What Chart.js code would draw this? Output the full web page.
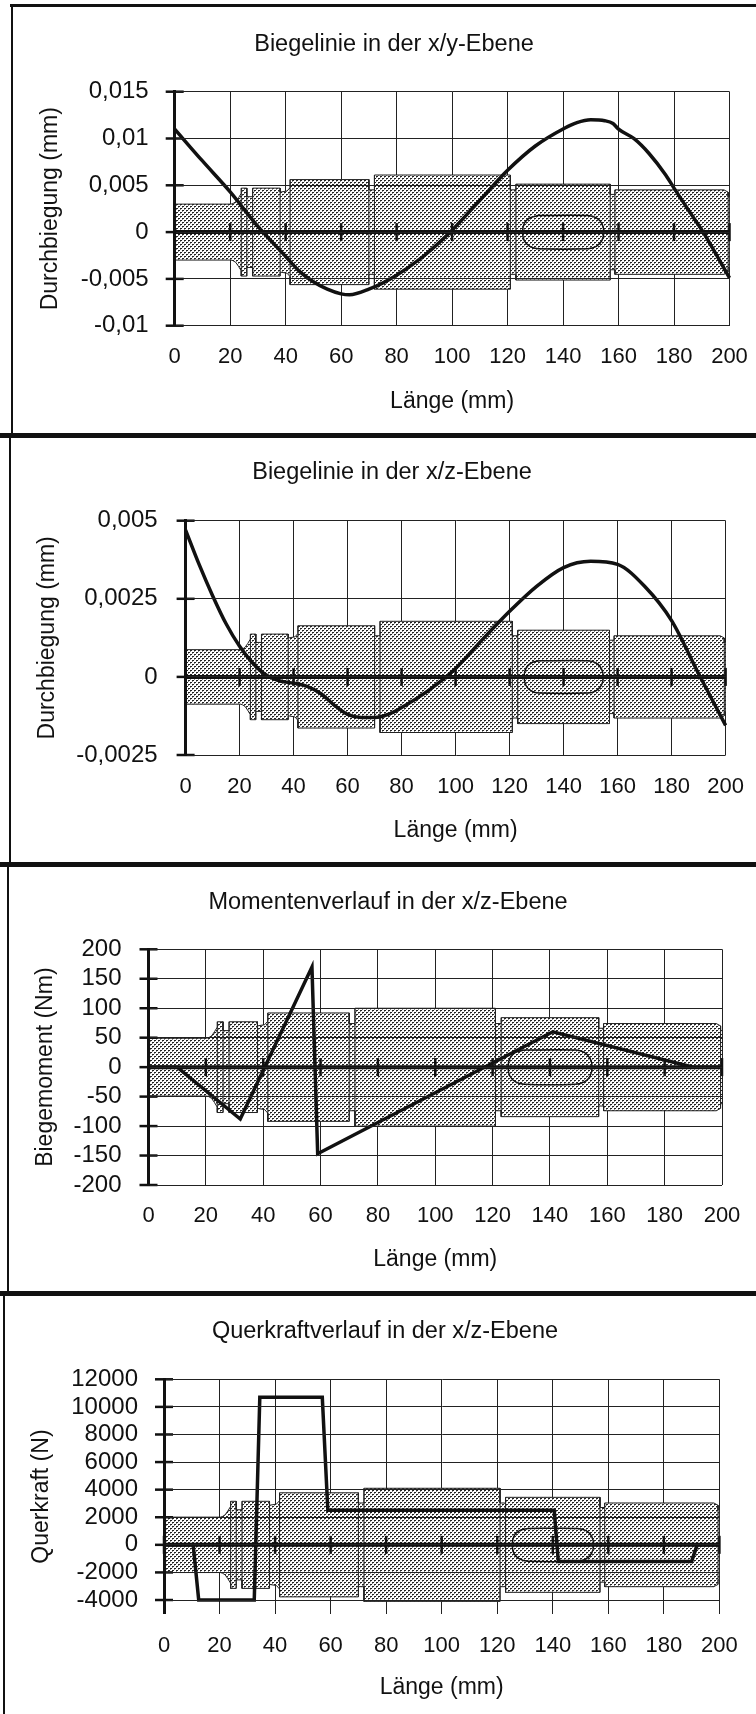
<!DOCTYPE html>
<html>
<head>
<meta charset="utf-8">
<title>Biegelinie</title>
<script src="https://cdn.jsdelivr.net/npm/chart.js@4/dist/chart.umd.min.js"></script>
<style>
html, body { margin: 0; padding: 0; background: #fff; }
#page { position: relative; width: 756px; height: 1714px; overflow: hidden; }
canvas { position: absolute; left: 0; }
.rule { position: absolute; background: #111; }
</style>
</head>
<body>
<div id="page">
	<canvas id="chart-1" width="756" height="430" style="top:4px"></canvas>
	<canvas id="chart-2" width="756" height="426" style="top:436px"></canvas>
	<canvas id="chart-3" width="756" height="425" style="top:866px"></canvas>
	<canvas id="chart-4" width="756" height="420" style="top:1294px"></canvas>
	<div class="rule" style="left:10px;top:4px;width:746px;height:3px"></div>
	<div class="rule" style="left:0;top:433px;width:756px;height:5px"></div>
	<div class="rule" style="left:0;top:862px;width:756px;height:5px"></div>
	<div class="rule" style="left:0;top:1291px;width:756px;height:5px"></div>
	<div class="rule" style="left:11px;top:4px;width:2px;height:431px"></div>
	<div class="rule" style="left:9px;top:435px;width:2px;height:429px"></div>
	<div class="rule" style="left:7px;top:864px;width:2px;height:429px"></div>
	<div class="rule" style="left:3px;top:1293px;width:2px;height:421px"></div>
</div>
<script>
(function () {
	'use strict';

	var xTicks = [0, 20, 40, 60, 80, 100, 120, 140, 160, 180, 200];

	// shaft outline in mm, radius relative to the thickest step
	var shaftX = [0, 20.3, 21, 22, 23, 24, 24, 26, 26, 28.1, 28.1, 38, 38, 40.5, 41.6, 41.6, 70, 70, 72, 72, 121, 121, 123, 123, 157, 157, 158.7, 158.7, 198, 199.5, 199.5, 200];
	var shaftR = [0.49, 0.49, 0.5, 0.53, 0.6, 0.68, 0.77, 0.77, 0.62, 0.62, 0.77, 0.77, 0.7, 0.72, 0.78, 0.92, 0.92, 0.74, 0.74, 1, 1, 0.74, 0.74, 0.84, 0.84, 0.66, 0.66, 0.74, 0.74, 0.7, 0.62, 0.62];
	var keyX = [131, 149, 152, 154, 154.7, 154, 152, 149, 131, 128, 126, 125.4, 126, 128, 131];
	var keyR = [0.29, 0.29, 0.25, 0.15, 0, -0.15, -0.25, -0.29, -0.29, -0.25, -0.15, 0, 0.15, 0.25, 0.29];

	var yTicks1 = [0.015, 0.01, 0.005, 0, -0.005, -0.01];
	var yLabels1 = ['0,015', '0,01', '0,005', '0', '-0,005', '-0,01'];
	var curveX1 = [0, 10, 20, 30, 40, 45, 50, 55, 60, 63, 70, 80, 90, 100, 110, 120, 130, 140.5, 145, 150, 155, 158, 160, 165.6, 171, 177, 180, 186, 190.5, 200];
	var curveY1 = [0.011, 0.0076, 0.0043, 0.0006, -0.0026, -0.0042, -0.0053, -0.0061, -0.0066, -0.0067, -0.0061, -0.0046, -0.0025, 0.0002, 0.0034, 0.0066, 0.0092, 0.0111, 0.0117, 0.012, 0.0119, 0.0116, 0.011, 0.00998, 0.0084, 0.0061, 0.0047, 0.002, 0, -0.0049];

	var yTicks2 = [0.005, 0.0025, 0, -0.0025];
	var yLabels2 = ['0,005', '0,0025', '0', '-0,0025'];
	var curveX2 = [0, 5, 10, 15, 20, 25, 30, 35, 40, 45, 50, 55, 60, 65, 70, 75, 80, 90, 100, 110, 120, 130, 140, 150, 160, 170, 180, 190, 200];
	var curveY2 = [0.0047, 0.0036, 0.0026, 0.0017, 0.00098, 0.00043, 0.00005, -0.00013, -0.0002, -0.0003, -0.00053, -0.0009, -0.0012, -0.0013, -0.0013, -0.0012, -0.00098, -0.00043, 0.00027, 0.0012, 0.0021, 0.0029, 0.0035, 0.0037, 0.0036, 0.0029, 0.0018, 0.0001, -0.00155];

	var yTicks3 = [200, 150, 100, 50, 0, -50, -100, -150, -200];
	var yLabels3 = ['200', '150', '100', '50', '0', '-50', '-100', '-150', '-200'];
	var curveX3 = [0, 10, 32, 57, 59, 141, 190, 200];
	var curveY3 = [0, 0, -88, 170, -147, 60, 0, 0];

	var yTicks4 = [12000, 10000, 8000, 6000, 4000, 2000, 0, -2000, -4000];
	var yLabels4 = ['12000', '10000', '8000', '6000', '4000', '2000', '0', '-2000', '-4000'];
	var curveX4 = [0, 10.5, 12.5, 32.5, 34.5, 57, 59, 140.5, 142, 190, 192, 200];
	var curveY4 = [0, 0, -4000, -4000, 10700, 10700, 2500, 2500, -1200, -1200, 0, 0];

	var FONT = '"Liberation Sans", Arial, Helvetica, sans-serif';
	var INK = '#111';

	function toPoints(xs, ys, scale) {
		return xs.map(function (x, i) {
			return { x: x, y: ys[i] * (scale || 1) };
		});
	}

	function zeros(values) {
		return values.map(function () { return 0; });
	}

	function stipple() {
		var tile = document.createElement('canvas');
		tile.width = 4;
		tile.height = 4;
		var ctx = tile.getContext('2d');
		ctx.fillStyle = '#fff';
		ctx.fillRect(0, 0, 4, 4);
		ctx.fillStyle = '#222';
		ctx.fillRect(0, 0, 2, 1);
		ctx.fillRect(2, 2, 2, 1);
		ctx.fillStyle = '#888';
		ctx.fillRect(0, 1, 1, 1);
		ctx.fillRect(2, 3, 1, 1);
		return ctx.createPattern(tile, 'repeat');
	}

	// vertical shoulders of the shaft, split by gaps
	function shaftEdges(scale) {
		var points = [];
		shaftX.forEach(function (x, i) {
			if (i < shaftX.length - 1 && shaftX[i + 1] === x) {
				var r = Math.max(shaftR[i], shaftR[i + 1]) * scale;
				points.push({ x: x, y: -r }, { x: x, y: r }, { x: x, y: null });
			}
		});
		return points;
	}

	function renderPanel(p) {
		var upper = toPoints(shaftX, shaftR, p.shaftScale);
		var lower = toPoints(shaftX, shaftR, -p.shaftScale);
		var hatch = stipple();
		var thin = { showLine: true, pointRadius: 0, borderColor: '#222', borderWidth: 1 };

		new Chart(document.getElementById(p.id), {
			type: 'scatter',
			data: {
				datasets: [
					{ data: toPoints(p.curveX, p.curveY), showLine: true, pointRadius: 0, borderColor: INK, borderWidth: 3.5, cubicInterpolationMode: p.smooth ? 'monotone' : 'default', order: 0, clip: false },
					{ data: toPoints(xTicks, zeros(xTicks)), pointStyle: 'line', rotation: 90, pointRadius: 9, pointBorderColor: INK, pointBorderWidth: 2.5, order: 1, clip: false },
					{ data: toPoints(zeros(p.yTicks), p.yTicks), pointStyle: 'line', pointRadius: 9, pointBorderColor: INK, pointBorderWidth: 2.5, order: 1, clip: false },
					{ data: [{ x: 0, y: 0 }, { x: 200, y: 0 }], showLine: true, pointRadius: 0, borderColor: INK, borderWidth: 4, order: 2, clip: false },
					{ data: toPoints(keyX, keyR, p.shaftScale), showLine: true, pointRadius: 0, borderColor: INK, borderWidth: 1.5, tension: 0.3, order: 3 },
					Object.assign({ data: shaftEdges(p.shaftScale), order: 4, spanGaps: false }, thin),
					Object.assign({ data: upper, fill: 'origin', backgroundColor: hatch, order: 5 }, thin),
					Object.assign({ data: lower, fill: 'origin', backgroundColor: hatch, order: 5 }, thin),
				],
			},
			options: {
				responsive: false,
				animation: false,
				layout: { padding: { left: p.padLeft, right: 0, top: 0, bottom: 0 } },
				plugins: {
					legend: { display: false },
					tooltip: { enabled: false },
					title: {
						display: true,
						text: p.title,
						color: INK,
						font: { family: FONT, size: 23.5, weight: 'normal' },
						padding: { top: p.titleTop, bottom: p.titleBottom },
					},
				},
				scales: {
					x: {
						type: 'linear',
						min: 0,
						max: 200,
						afterBuildTicks: function (scale) {
							scale.ticks = xTicks.map(function (v) { return { value: v }; });
						},
						afterFit: function (scale) {
							scale.height = p.xHeight;
							scale.paddingRight = 756 - p.plotRight;
						},
						grid: { color: '#222', lineWidth: 1, drawTicks: false },
						border: { display: false },
						ticks: { color: INK, padding: p.xTickPad, maxRotation: 0, autoSkip: false, font: { family: FONT, size: 22 } },
						title: { display: true, text: 'Länge (mm)', color: INK, font: { family: FONT, size: 23 }, padding: { top: 0, bottom: p.xTitlePad } },
					},
					y: {
						type: 'linear',
						min: p.yMin,
						max: p.yMax,
						afterBuildTicks: function (scale) {
							scale.ticks = p.yTicks.map(function (v) { return { value: v }; });
						},
						afterFit: function (scale) {
							scale.width = p.plotLeft - p.padLeft;
						},
						grid: { color: '#222', lineWidth: 1, drawTicks: false, z: 1 },
						border: { color: INK, width: 3, z: 2 },
						ticks: {
							color: INK,
							padding: p.yTickPad,
							autoSkip: false,
							font: { family: FONT, size: 24 },
							callback: function (value, index) {
								return p.yLabels[index];
							},
						},
						title: { display: true, text: p.yTitle, color: INK, font: { family: FONT, size: 23 }, padding: { top: p.yTitlePad, bottom: 0 } },
					},
				},
			},
		});
	}

	renderPanel({
		id: 'chart-1', title: 'Biegelinie in der x/y-Ebene', yTitle: 'Durchbiegung (mm)',
		yTicks: yTicks1, yLabels: yLabels1, yMin: -0.01, yMax: 0.015, curveX: curveX1, curveY: curveY1, smooth: true, shaftScale: 0.0061,
		padLeft: 32, plotLeft: 174.7, plotRight: 729.5, titleTop: 26.9, titleBottom: 32.6, xHeight: 108.3, xTickPad: 18, xTitlePad: 18.5, yTickPad: 26, yTitlePad: 5.2,
	});
	renderPanel({
		id: 'chart-2', title: 'Biegelinie in der x/z-Ebene', yTitle: 'Durchbiegung (mm)',
		yTicks: yTicks2, yLabels: yLabels2, yMin: -0.0025, yMax: 0.005, curveX: curveX2, curveY: curveY2, smooth: true, shaftScale: 0.00178,
		padLeft: 28, plotLeft: 185.6, plotRight: 725.6, titleTop: 22.9, titleBottom: 33.6, xHeight: 107, xTickPad: 19, xTitlePad: 17.2, yTickPad: 28, yTitlePad: 6.2,
	});
	renderPanel({
		id: 'chart-3', title: 'Momentenverlauf in der x/z-Ebene', yTitle: 'Biegemoment (Nm)',
		yTicks: yTicks3, yLabels: yLabels3, yMin: -200, yMax: 200, curveX: curveX3, curveY: curveY3, smooth: false, shaftScale: 100,
		padLeft: 20, plotLeft: 148.5, plotRight: 722, titleTop: 22.6, titleBottom: 32.5, xHeight: 106, xTickPad: 18, xTitlePad: 17.2, yTickPad: 27, yTitlePad: 11.9,
	});
	renderPanel({
		id: 'chart-4', title: 'Querkraftverlauf in der x/z-Ebene', yTitle: 'Querkraft (N)',
		yTicks: yTicks4, yLabels: yLabels4, yMin: -5000, yMax: 12000, curveX: curveX4, curveY: curveY4, smooth: false, shaftScale: 4100,
		padLeft: 14, plotLeft: 164, plotRight: 719.4, titleTop: 23.9, titleBottom: 33.2, xHeight: 100.2, xTickPad: 19, xTitlePad: 12.2, yTickPad: 26, yTitlePad: 14.2,
	});
})();
</script>
</body>
</html>
